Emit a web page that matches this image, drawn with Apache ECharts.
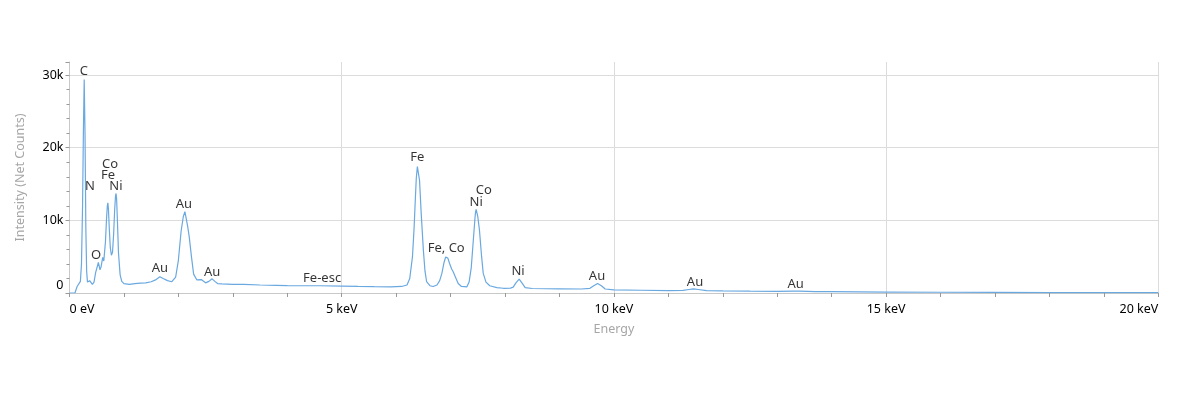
<!DOCTYPE html>
<html>
<head>
<meta charset="utf-8">
<script src="https://cdn.jsdelivr.net/npm/echarts@6/dist/echarts.min.js"></script>
<style>
html,body{margin:0;padding:0;background:#fff;}
#chart{width:1200px;height:397px;}
</style>
</head>
<body>
<div id="chart"></div>
<script>
// Spectrum: [energy keV, net counts]
const spectrum = [
  [0.00,0],[0.10,0],[0.13,0],[0.14,900],[0.17,1100],[0.20,1600],[0.22,4000],[0.24,12000],[0.255,22000],
  [0.27,29400],[0.285,22000],[0.30,9000],[0.315,3000],[0.33,1500],[0.35,1300],[0.37,1700],[0.39,1600],
  [0.42,1200],[0.45,1500],[0.48,2800],[0.53,4200],[0.56,3200],[0.58,3600],[0.61,4900],[0.63,4400],
  [0.66,7000],[0.68,10200],[0.695,12000],[0.705,12400],[0.715,11600],[0.73,9000],[0.75,6200],[0.77,5200],
  [0.79,5600],[0.81,8000],[0.83,11500],[0.845,13300],[0.855,13700],[0.865,13000],[0.88,10000],[0.90,5500],
  [0.93,2500],[0.96,1600],[1.00,1300],[1.10,1200],
  [1.20,1300],[1.30,1350],[1.40,1400],[1.50,1550],[1.58,1800],[1.66,2250],[1.72,2000],[1.80,1700],
  [1.88,1550],[1.95,2200],[2.00,4500],[2.05,8500],[2.09,10500],[2.12,11200],[2.14,11000],[2.17,9200],
  [2.20,7700],[2.24,5000],[2.28,2600],[2.34,1800],[2.42,1850],[2.50,1400],[2.56,1600],[2.62,1950],[2.67,1600],
  [2.72,1300],[2.80,1250],[3.00,1200],[3.20,1180],[3.50,1100],[3.80,1050],[4.00,1020],[4.30,1000],
  [4.60,1000],[5.00,960],[5.30,900],[5.60,870],[5.90,850],[6.10,900],[6.20,1100],[6.25,2000],[6.30,5000],
  [6.33,9000],[6.35,12500],[6.37,15800],[6.39,17400],[6.40,17600],[6.41,17300],[6.43,15500],[6.46,11000],
  [6.50,5900],[6.53,3000],[6.56,1550],
  [6.62,1000],[6.68,900],[6.75,1100],[6.80,1700],[6.84,2700],[6.88,4200],[6.91,4950],[6.93,5100],[6.95,4800],
  [6.98,4100],[7.02,3300],[7.05,2900],[7.10,2000],[7.14,1300],[7.20,900],[7.30,850],[7.34,1500],[7.38,3500],
  [7.42,7500],[7.45,10500],[7.46,11200],[7.47,11500],[7.48,11300],[7.50,10500],[7.53,8700],[7.57,5000],
  [7.60,2700],[7.65,1500],
  [7.72,1000],[7.85,750],[7.97,650],[8.10,680],[8.15,800],[8.20,1400],[8.26,1900],[8.31,1400],[8.37,750],
  [8.50,620],[9.00,580],[9.40,550],[9.56,650],[9.63,1000],[9.70,1300],[9.77,1000],[9.84,550],[10.0,420],
  [10.5,380],[11.0,340],[11.27,350],[11.38,480],[11.46,560],[11.55,480],[11.70,320],[12.0,280],[12.5,250],
  [13.0,230],[13.3,260],[13.4,250],[13.7,200],[14.0,180],[14.5,150],[15.0,130],[16.0,100],[17.0,80],
  [18.0,60],[19.0,50],[20.0,40]
];

// Peak annotations: [text, energy keV, counts at text centre]
const peakLabels = [
  ['C',0.266,30500],['N',0.377,14700],['Co',0.744,17700],['Fe',0.707,16200],['Ni',0.854,14700],
  ['O',0.487,5200],['Au',2.10,12200],['Au',1.66,3400],['Au',2.62,2900],['Fe-esc',4.64,2060],
  ['Fe',6.39,18700],['Fe, Co',6.92,6200],['Co',7.61,14200],['Ni',7.47,12500],['Ni',8.24,3000],
  ['Au',9.69,2300],['Au',11.49,1500],['Au',13.34,1200]
];

const xTicks = [0,5,10,15,20];
const yTicks = [0,10000,20000,30000];

const FONT = '"Noto Sans", "Open Sans", sans-serif';
const chart = echarts.init(document.getElementById('chart'), null, {renderer:'canvas'});
chart.setOption({
  animation:false,
  textStyle:{fontFamily:FONT},
  grid:{left:69.5, right:41.7, top:62, bottom:104, containLabel:false},
  xAxis:{
    type:'value', min:xTicks[0], max:xTicks[xTicks.length-1], interval:5,
    name:'Energy', nameLocation:'middle', nameGap:30,
    nameTextStyle:{color:'#a6a6a6', fontSize:12.5, fontFamily:FONT},
    axisLine:{show:true, onZero:false, lineStyle:{color:'#c8c8c8', width:1}},
    axisTick:{show:true, length:4, lineStyle:{color:'#999'}},
    minorTick:{show:true, splitNumber:5, length:4, lineStyle:{color:'#999'}},
    splitLine:{show:true, showMinLine:false, lineStyle:{color:'#dcdcdc', width:1}},
    axisLabel:{color:'#000', fontSize:12.5, margin:10, fontFamily:FONT,
      alignMinLabel:'left', alignMaxLabel:'right',
      formatter:v => v===0 ? '0 eV' : v + ' keV'}
  },
  yAxis:{
    type:'value', min:yTicks[0], max:31800, interval:10000,
    name:'Intensity (Net Counts)', nameLocation:'middle', nameGap:43,
    nameTextStyle:{color:'#a6a6a6', fontSize:12.5, fontFamily:FONT},
    axisLine:{show:true, lineStyle:{color:'#c8c8c8', width:1}},
    axisTick:{show:true, length:4, lineStyle:{color:'#999'}},
    minorTick:{show:true, splitNumber:5, length:3, lineStyle:{color:'#999'}},
    splitLine:{show:true, showMinLine:false, showMaxLine:false, lineStyle:{color:'#dcdcdc', width:1}},
    axisLabel:{color:'#000', fontSize:12.5, margin:6, fontFamily:FONT, showMaxLabel:false,
      formatter:v => v===0 ? '{z|0}' : (v/1000)+'k',
      rich:{z:{padding:[0,0,16,0], fontSize:12.5, color:'#000', fontFamily:FONT}}}
  },
  series:[
    {
      type:'line', data:spectrum, showSymbol:false, silent:true,
      lineStyle:{color:'#6aa8e0', width:1.2}, itemStyle:{color:'#6aa8e0'}
    },
    {
      type:'scatter', silent:true, symbolSize:1, z:5,
      itemStyle:{color:'rgba(0,0,0,0)'},
      data:peakLabels.map(p => ({value:[p[1], p[2]], name:p[0]})),
      label:{show:true, position:'inside', color:'#000', fontSize:13, fontFamily:FONT,
        formatter:p => p.name}
    }
  ]
});
</script>
</body>
</html>
